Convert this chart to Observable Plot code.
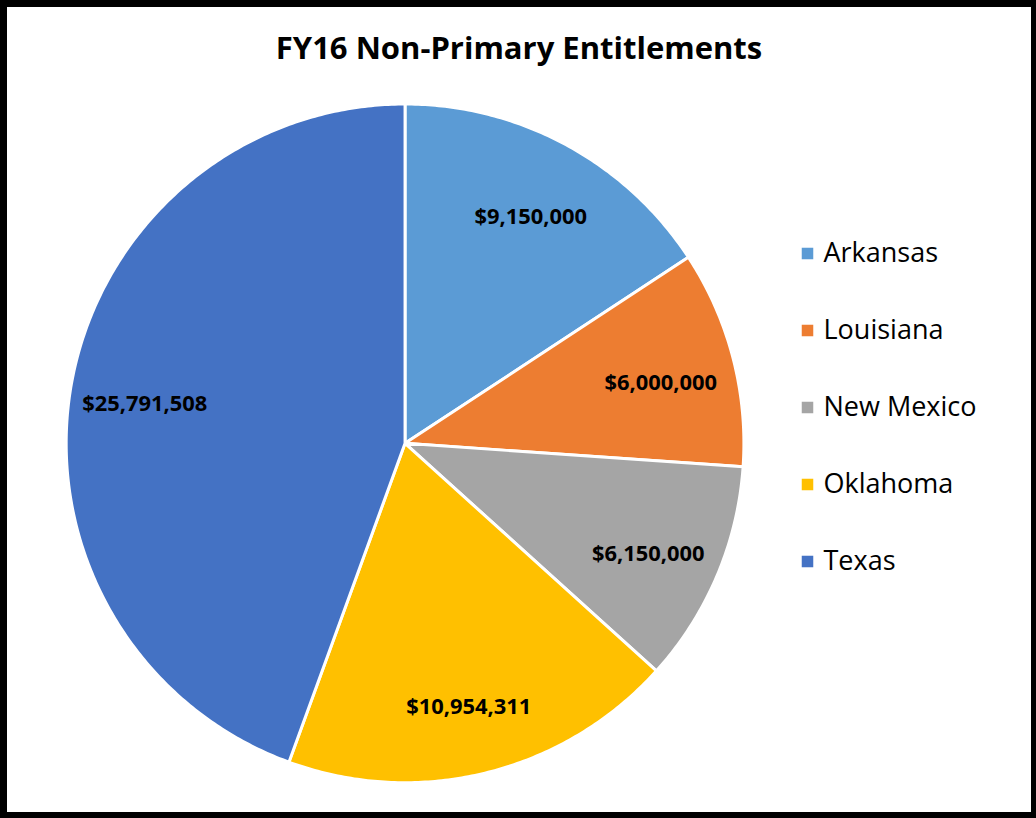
<!DOCTYPE html>
<html>
<head>
<meta charset="utf-8">
<script src="https://cdn.jsdelivr.net/npm/d3@7"></script>
<script src="https://cdn.jsdelivr.net/npm/@observablehq/plot@0.6"></script>
<style>
  html, body { margin: 0; padding: 0; background: #fff; }
  #frame { position: relative; width: 1036px; height: 818px; box-sizing: border-box; border: 7px solid #000; border-right-width: 5px; border-bottom-width: 6px; overflow: hidden; font-family: "Open Sans", sans-serif; }
  #title { position: absolute; left: 0; right: 0; top: 19px; text-align: center; font-size: 31px; font-weight: bold; color: #000; letter-spacing: 0px; }
  #pie { position: absolute; left: -7px; top: -7px; }
  #legend { position: absolute; left: 776px; top: 187px; }
</style>
</head>
<body>
<div id="frame">
  <div id="title">FY16 Non-Primary Entitlements</div>
  <div id="pie"></div>
  <div id="legend"></div>
</div>
<script>
const states = ["Arkansas", "Louisiana", "New Mexico", "Oklahoma", "Texas"];
const amounts = [9150000, 6000000, 6150000, 10954311, 25791508];
const colors = ["#5B9BD5", "#ED7D31", "#A5A5A5", "#FFC000", "#4472C4"];

const data = states.map((s, i) => ({state: s, value: amounts[i]}));
const arcs = d3.pie().value(d => d.value).sort(null)(data);

// Build slice outlines in unit-circle data space (angle measured clockwise from top)
const slicePts = [];
for (const a of arcs) {
  const steps = Math.max(4, Math.ceil((a.endAngle - a.startAngle) / 0.01));
  slicePts.push({state: a.data.state, x: 0, y: 0});
  for (let k = 0; k <= steps; k++) {
    const t = a.startAngle + (a.endAngle - a.startAngle) * k / steps;
    slicePts.push({state: a.data.state, x: Math.sin(t), y: Math.cos(t)});
  }
  slicePts.push({state: a.data.state, x: 0, y: 0});
}
const labelR = 0.78;
const labels = arcs.map(a => {
  const m = (a.startAngle + a.endAngle) / 2;
  return {state: a.data.state, value: a.data.value, x: labelR * Math.sin(m), y: labelR * Math.cos(m)};
});
const fmt = d3.format("$,");

const pie = Plot.plot({
  width: 1036, height: 818,
  marginLeft: 66, marginRight: 289, marginTop: 104, marginBottom: 32,
  x: {domain: [-1, 1], axis: null},
  y: {domain: [-1, 1], axis: null},
  color: {domain: states, range: colors},
  style: {background: "transparent", overflow: "visible"},
  marks: [
    Plot.line(slicePts, {x: "x", y: "y", z: "state", fill: "state", stroke: "white", strokeWidth: 3, strokeLinejoin: "round", curve: "linear"}),
    Plot.text(labels, {x: "x", y: "y", dy: 7, text: d => fmt(d.value), fill: "#000", fontSize: 22, fontWeight: "bold", fontFamily: "Open Sans", letterSpacing: "-0.3px"})
  ]
});
document.getElementById("pie").appendChild(pie);

const legend = Plot.plot({
  width: 240, height: 420,
  marginTop: 58, marginBottom: 53, marginLeft: 0, marginRight: 0,
  x: {axis: null},
  y: {type: "point", domain: states, axis: null, padding: 0},
  color: {domain: states, range: colors},
  style: {background: "transparent"},
  marks: [
    Plot.dot(states, {y: d => d, fill: d => d, symbol: "square", r: 6.5, frameAnchor: "left", dx: 24}),
    Plot.text(states, {y: d => d, text: d => d, frameAnchor: "left", dx: 40, textAnchor: "start", fill: "#000", fontSize: 27, fontFamily: "Open Sans"})
  ]
});
document.getElementById("legend").appendChild(legend);
</script>
</body>
</html>
